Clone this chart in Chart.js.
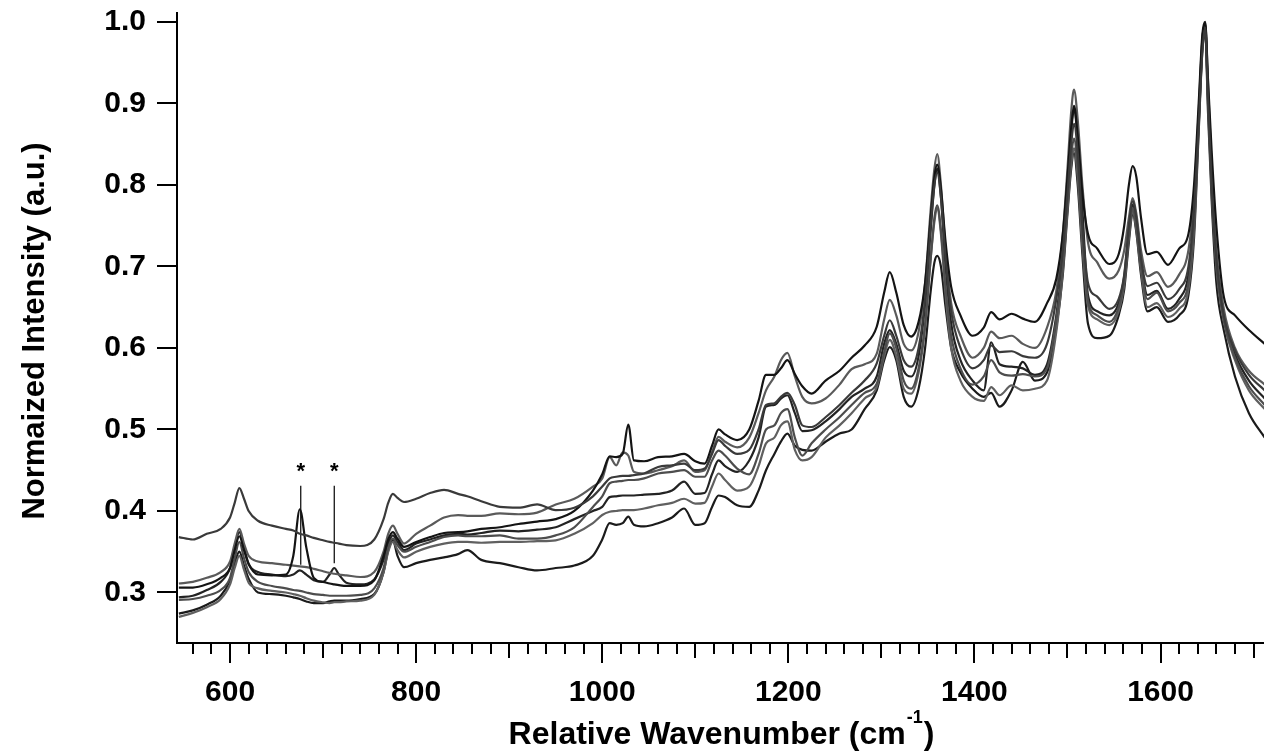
<!DOCTYPE html>
<html>
<head>
<meta charset="utf-8">
<script src="https://cdn.jsdelivr.net/npm/chart.js@4.4.1/dist/chart.umd.min.js"></script>
<style>
  html, body { margin: 0; padding: 0; background: #fff; }
  #wrap { width: 1264px; height: 756px; }
</style>
</head>
<body>
<div id="wrap"><canvas id="spectra" width="1264" height="756"></canvas></div>
<script>
// wavenumber grid (cm-1), shared by all spectra
const wavenumbers = [
  545, 560, 575, 590, 600, 605, 610, 615, 620, 630, 645, 660, 668, 675, 682, 690, 700, 707, 712, 717, 725, 740, 755, 765, 770, 775, 780, 787,
  800, 815, 830, 845, 855, 870, 890, 910, 930, 950, 970, 990,
  1000, 1008, 1015, 1022, 1028, 1034, 1045, 1060, 1075, 1088, 1100, 1110, 1118, 1125, 1132, 1145,
  1158, 1168, 1176, 1185, 1192, 1199, 1207, 1215, 1225, 1240, 1255, 1268, 1282, 1295, 1303, 1309, 1316, 1324, 1332, 1340, 1347, 1353, 1357, 1360, 1364, 1369, 1375, 1385,
  1398, 1410, 1418, 1427, 1440, 1452, 1465, 1478, 1488, 1495,
  1500, 1504, 1507, 1511, 1516, 1522, 1532, 1545, 1555, 1561, 1566, 1570, 1574, 1579, 1586, 1596,
  1608, 1620, 1630, 1636, 1641, 1645, 1648, 1651, 1655, 1660, 1668, 1680, 1695, 1712
];

const spectrum1 = [
  0.368, 0.365, 0.372, 0.378, 0.392, 0.410, 0.428, 0.415, 0.400, 0.388, 0.382, 0.378, 0.376, 0.372, 0.370, 0.367, 0.364, 0.362, 0.361, 0.360, 0.358, 0.357, 0.365, 0.390, 0.410, 0.421, 0.416, 0.411,
  0.415, 0.422, 0.426, 0.421, 0.418, 0.412, 0.405, 0.404, 0.408, 0.401, 0.404, 0.418,
  0.430, 0.440, 0.442, 0.443, 0.443, 0.444, 0.446, 0.454, 0.456, 0.458, 0.450, 0.452, 0.470, 0.487, 0.480, 0.470,
  0.475, 0.500, 0.530, 0.532, 0.540, 0.545, 0.530, 0.505, 0.503, 0.515, 0.530, 0.545, 0.560, 0.581, 0.615, 0.634, 0.615, 0.585, 0.577, 0.600, 0.660, 0.750, 0.800, 0.815, 0.785, 0.710, 0.645, 0.600,
  0.575, 0.585, 0.603, 0.595, 0.596, 0.590, 0.588, 0.605, 0.660, 0.720,
  0.790, 0.850, 0.875, 0.840, 0.750, 0.680, 0.663, 0.648, 0.660, 0.690, 0.750, 0.780, 0.760, 0.710, 0.676, 0.680,
  0.660, 0.672, 0.700, 0.770, 0.875, 0.965, 0.993, 0.910, 0.800, 0.710, 0.640, 0.597, 0.567, 0.548
];
const spectrum2 = [
  0.306, 0.306, 0.310, 0.318, 0.330, 0.352, 0.369, 0.352, 0.335, 0.322, 0.321, 0.322, 0.345, 0.402, 0.355, 0.318, 0.313, 0.311, 0.310, 0.309, 0.308, 0.308, 0.315, 0.345, 0.365, 0.374, 0.366, 0.356,
  0.362, 0.368, 0.373, 0.374, 0.375, 0.378, 0.380, 0.384, 0.387, 0.390, 0.400, 0.425,
  0.445, 0.467, 0.466, 0.470, 0.506, 0.462, 0.461, 0.466, 0.467, 0.470, 0.461, 0.458, 0.480, 0.500, 0.494, 0.487,
  0.500, 0.535, 0.567, 0.567, 0.575, 0.585, 0.568, 0.553, 0.544, 0.560, 0.572, 0.588, 0.603, 0.626, 0.668, 0.693, 0.668, 0.628, 0.614, 0.632, 0.680, 0.760, 0.810, 0.825, 0.795, 0.730, 0.675, 0.640,
  0.615, 0.625, 0.644, 0.635, 0.642, 0.636, 0.632, 0.655, 0.685, 0.740,
  0.810, 0.870, 0.897, 0.860, 0.790, 0.740, 0.722, 0.703, 0.715, 0.750, 0.800, 0.823, 0.810, 0.760, 0.715, 0.718,
  0.702, 0.722, 0.740, 0.800, 0.900, 0.985, 1.000, 0.930, 0.840, 0.750, 0.663, 0.640, 0.622, 0.605
];
const spectrum3 = [
  0.311, 0.313, 0.318, 0.325, 0.338, 0.360, 0.378, 0.360, 0.345, 0.338, 0.336, 0.334, 0.333, 0.332, 0.331, 0.329, 0.326, 0.324, 0.323, 0.322, 0.321, 0.319, 0.325, 0.350, 0.372, 0.382, 0.372, 0.360,
  0.372, 0.382, 0.392, 0.395, 0.394, 0.394, 0.397, 0.396, 0.398, 0.408, 0.415, 0.430,
  0.440, 0.466, 0.456, 0.472, 0.468, 0.448, 0.446, 0.450, 0.455, 0.462, 0.448, 0.450, 0.472, 0.491, 0.485, 0.478,
  0.490, 0.520, 0.548, 0.565, 0.585, 0.594, 0.565, 0.540, 0.532, 0.538, 0.555, 0.574, 0.580, 0.593, 0.635, 0.659, 0.640, 0.605, 0.597, 0.620, 0.680, 0.770, 0.820, 0.838, 0.800, 0.720, 0.655, 0.615,
  0.588, 0.600, 0.620, 0.612, 0.615, 0.605, 0.600, 0.625, 0.670, 0.740,
  0.820, 0.890, 0.917, 0.880, 0.800, 0.730, 0.705, 0.685, 0.695, 0.720, 0.760, 0.784, 0.765, 0.720, 0.688, 0.693,
  0.675, 0.690, 0.720, 0.785, 0.890, 0.980, 0.998, 0.925, 0.820, 0.720, 0.648, 0.600, 0.572, 0.555
];
const spectrum4 = [
  0.291, 0.292, 0.296, 0.303, 0.318, 0.342, 0.362, 0.342, 0.325, 0.313, 0.308, 0.305, 0.303, 0.302, 0.300, 0.298, 0.297, 0.296, 0.296, 0.296, 0.296, 0.297, 0.305, 0.330, 0.355, 0.366, 0.358, 0.350,
  0.356, 0.362, 0.368, 0.370, 0.369, 0.369, 0.370, 0.366, 0.366, 0.370, 0.380, 0.405,
  0.418, 0.434, 0.436, 0.437, 0.438, 0.438, 0.440, 0.446, 0.448, 0.450, 0.442, 0.442, 0.462, 0.474, 0.468, 0.452,
  0.445, 0.470, 0.500, 0.505, 0.520, 0.525, 0.490, 0.468, 0.483, 0.500, 0.515, 0.530, 0.545, 0.556, 0.595, 0.618, 0.600, 0.560, 0.550, 0.575, 0.630, 0.710, 0.760, 0.775, 0.745, 0.675, 0.615, 0.575,
  0.555, 0.565, 0.585, 0.570, 0.566, 0.568, 0.565, 0.575, 0.635, 0.700,
  0.775, 0.835, 0.857, 0.820, 0.735, 0.658, 0.640, 0.632, 0.650, 0.682, 0.740, 0.772, 0.750, 0.700, 0.660, 0.668,
  0.645, 0.655, 0.680, 0.750, 0.875, 0.970, 0.990, 0.900, 0.790, 0.700, 0.635, 0.588, 0.553, 0.530
];
const spectrum5 = [
  0.294, 0.296, 0.303, 0.313, 0.330, 0.355, 0.374, 0.355, 0.335, 0.325, 0.322, 0.320, 0.322, 0.327, 0.322, 0.315, 0.313, 0.322, 0.330, 0.322, 0.312, 0.310, 0.316, 0.340, 0.360, 0.370, 0.362, 0.352,
  0.360, 0.365, 0.370, 0.372, 0.371, 0.373, 0.376, 0.375, 0.377, 0.380, 0.390, 0.400,
  0.405, 0.417, 0.418, 0.419, 0.419, 0.419, 0.420, 0.421, 0.425, 0.436, 0.421, 0.422, 0.445, 0.462, 0.455, 0.448,
  0.462, 0.490, 0.528, 0.530, 0.538, 0.542, 0.520, 0.498, 0.499, 0.510, 0.525, 0.540, 0.550, 0.565, 0.605, 0.622, 0.605, 0.572, 0.565, 0.590, 0.655, 0.745, 0.800, 0.820, 0.785, 0.700, 0.630, 0.585,
  0.560, 0.548, 0.607, 0.580, 0.577, 0.575, 0.567, 0.580, 0.640, 0.710,
  0.790, 0.865, 0.892, 0.855, 0.770, 0.665, 0.645, 0.640, 0.655, 0.688, 0.745, 0.776, 0.755, 0.705, 0.665, 0.670,
  0.648, 0.660, 0.690, 0.760, 0.880, 0.978, 0.997, 0.910, 0.805, 0.710, 0.638, 0.592, 0.560, 0.538
];
const spectrum6 = [
  0.270, 0.275, 0.282, 0.292, 0.310, 0.330, 0.345, 0.328, 0.312, 0.305, 0.302, 0.300, 0.298, 0.296, 0.293, 0.290, 0.288, 0.287, 0.288, 0.288, 0.289, 0.290, 0.297, 0.325, 0.350, 0.362, 0.352, 0.343,
  0.350, 0.356, 0.360, 0.362, 0.362, 0.361, 0.362, 0.362, 0.363, 0.364, 0.372, 0.385,
  0.395, 0.399, 0.400, 0.401, 0.401, 0.401, 0.403, 0.407, 0.410, 0.415, 0.409, 0.410, 0.430, 0.446, 0.438, 0.425,
  0.430, 0.455, 0.483, 0.490, 0.505, 0.510, 0.475, 0.462, 0.466, 0.490, 0.505, 0.520, 0.538, 0.552, 0.590, 0.610, 0.590, 0.550, 0.544, 0.570, 0.625, 0.710, 0.755, 0.772, 0.740, 0.665, 0.600, 0.560,
  0.540, 0.535, 0.552, 0.542, 0.554, 0.548, 0.550, 0.560, 0.620, 0.695,
  0.770, 0.825, 0.845, 0.810, 0.725, 0.652, 0.635, 0.628, 0.645, 0.678, 0.735, 0.768, 0.745, 0.695, 0.650, 0.655,
  0.638, 0.648, 0.672, 0.745, 0.870, 0.972, 0.994, 0.905, 0.800, 0.700, 0.632, 0.585, 0.548, 0.525
];
const spectrum7 = [
  0.274, 0.278, 0.285, 0.296, 0.315, 0.336, 0.350, 0.333, 0.317, 0.300, 0.298, 0.296, 0.294, 0.292, 0.289, 0.287, 0.287, 0.289, 0.290, 0.290, 0.290, 0.292, 0.298, 0.325, 0.352, 0.364, 0.345, 0.331,
  0.336, 0.340, 0.343, 0.347, 0.352, 0.340, 0.336, 0.331, 0.327, 0.330, 0.333, 0.345,
  0.365, 0.385, 0.383, 0.385, 0.393, 0.383, 0.381, 0.385, 0.392, 0.403, 0.383, 0.385, 0.405, 0.419, 0.417, 0.407,
  0.405, 0.425, 0.450, 0.470, 0.485, 0.495, 0.480, 0.475, 0.474, 0.485, 0.495, 0.500, 0.525, 0.548, 0.585, 0.601, 0.585, 0.540, 0.528, 0.550, 0.600, 0.670, 0.705, 0.713, 0.700, 0.650, 0.600, 0.570,
  0.550, 0.540, 0.545, 0.528, 0.548, 0.583, 0.560, 0.570, 0.625, 0.690,
  0.765, 0.820, 0.839, 0.800, 0.715, 0.630, 0.612, 0.615, 0.640, 0.672, 0.730, 0.765, 0.742, 0.690, 0.645, 0.650,
  0.632, 0.640, 0.665, 0.735, 0.865, 0.965, 0.988, 0.890, 0.780, 0.680, 0.622, 0.565, 0.520, 0.490
];

// tick values
const yTickValues = [0.3, 0.4, 0.5, 0.6, 0.7, 0.8, 0.9, 1.0];
const xTickValues = [];
for (let v = 560; v <= 1700; v += 20) xTickValues.push(v);

// the two starred bands and their marker lines
const starBands = [676, 712];
const starLineBottom = [0.334, 0.336];
const starLineTop = 0.431;
const starLevel = 0.456;

const spectra = [spectrum1, spectrum2, spectrum3, spectrum4, spectrum5, spectrum6, spectrum7];
const lineColors = ['#3a3a3a', '#141414', '#5a5a5a', '#4d4d4d', '#232323', '#606060', '#1b1b1b'];

spectra.forEach((s, i) => {
  if (s.length !== wavenumbers.length) console.error('spectrum' + (i + 1) + ' length ' + s.length + ' vs ' + wavenumbers.length);
});

const FONT = '"Liberation Sans", Arial, Helvetica, sans-serif';

const datasets = spectra.map((s, i) => ({
  data: wavenumbers.map((x, j) => ({ x: x, y: s[j] })),
  borderColor: lineColors[i],
  borderWidth: 2.2,
  pointRadius: 0,
  cubicInterpolationMode: 'monotone',
  fill: false
}));

starBands.forEach((x, i) => {
  datasets.push({
    data: [{ x: x, y: starLineBottom[i] }, { x: x, y: starLineTop }],
    borderColor: '#000',
    borderWidth: 1.2,
    pointRadius: 0,
    tension: 0,
    fill: false
  });
});

// tick marks, axis titles and the asterisks
const decorations = {
  id: 'decorations',
  afterDraw(chart) {
    const ctx = chart.ctx;
    const xs = chart.scales.x, ys = chart.scales.y;
    const area = chart.chartArea;
    ctx.save();
    ctx.strokeStyle = '#000';
    ctx.lineWidth = 2;
    ctx.beginPath();
    xTickValues.forEach(v => {
      const px = Math.round(xs.getPixelForValue(v));
      const len = v % 200 === 0 ? 20 : (v % 100 === 0 ? 15 : 11);
      ctx.moveTo(px, area.bottom);
      ctx.lineTo(px, area.bottom + len);
    });
    yTickValues.forEach(v => {
      const py = Math.round(ys.getPixelForValue(v));
      ctx.moveTo(area.left, py);
      ctx.lineTo(area.left - 20, py);
    });
    ctx.stroke();

    // asterisks
    ctx.fillStyle = '#000';
    ctx.font = 'bold 22px ' + FONT;
    ctx.textAlign = 'center';
    ctx.textBaseline = 'alphabetic';
    starBands.forEach(x => {
      ctx.fillText('*', xs.getPixelForValue(x), ys.getPixelForValue(starLevel) + 13);
    });

    // x title with superscript
    const main = 'Relative Wavenumber (cm', sup = '-1', close = ')';
    const mainFont = 'bold 32px ' + FONT, supFont = 'bold 18px ' + FONT;
    ctx.textAlign = 'left';
    ctx.font = mainFont;
    const wMain = ctx.measureText(main).width;
    const wClose = ctx.measureText(close).width;
    ctx.font = supFont;
    const wSup = ctx.measureText(sup).width;
    let x0 = (area.left + area.right) / 2 - (wMain + wSup + wClose) / 2;
    ctx.font = mainFont;
    ctx.fillText(main, x0, 744);
    ctx.font = supFont;
    ctx.fillText(sup, x0 + wMain + 1, 723);
    ctx.font = mainFont;
    ctx.fillText(close, x0 + wMain + wSup + 2, 744);

    // y title
    ctx.translate(44, (area.top + area.bottom) / 2 + 3);
    ctx.rotate(-Math.PI / 2);
    ctx.textAlign = 'center';
    ctx.font = 'bold 31px ' + FONT;
    ctx.fillText('Normaized Intensity (a.u.)', 0, 0);
    ctx.restore();
  }
};

const ctx = document.getElementById('spectra').getContext('2d');
const chart = new Chart(ctx, {
  type: 'line',
  data: { datasets: datasets },
  options: {
    responsive: false,
    animation: false,
    devicePixelRatio: 1,
    layout: { padding: { top: 13, right: 0, bottom: 0, left: 0 } },
    plugins: { legend: { display: false }, tooltip: { enabled: false } },
    scales: {
      x: {
        type: 'linear',
        min: 543,
        max: 1711.2,
        afterBuildTicks: s => { s.ticks = xTickValues.map(v => ({ value: v })); },
        afterFit: s => { s.height = 113; s.paddingLeft = 0; s.paddingRight = 0; },
        grid: { display: true, drawOnChartArea: false, drawTicks: false },
        border: { display: true, color: '#000', width: 2 },
        ticks: {
          autoSkip: false,
          maxRotation: 0,
          padding: 32,
          color: '#000',
          font: { family: FONT, size: 30, weight: 'bold' },
          callback: v => (v % 200 === 0 ? String(v) : '')
        }
      },
      y: {
        type: 'linear',
        min: 0.238,
        max: 1.011,
        afterBuildTicks: s => { s.ticks = yTickValues.map(v => ({ value: v })); },
        afterFit: s => { s.width = 177; s.paddingTop = 0; s.paddingBottom = 0; },
        grid: { display: true, drawOnChartArea: false, drawTicks: false },
        border: { display: true, color: '#000', width: 2 },
        ticks: {
          padding: 31,
          color: '#000',
          font: { family: FONT, size: 30, weight: 'bold' },
          callback: v => v.toFixed(1)
        }
      }
    }
  },
  plugins: [decorations]
});
</script>
</body>
</html>
